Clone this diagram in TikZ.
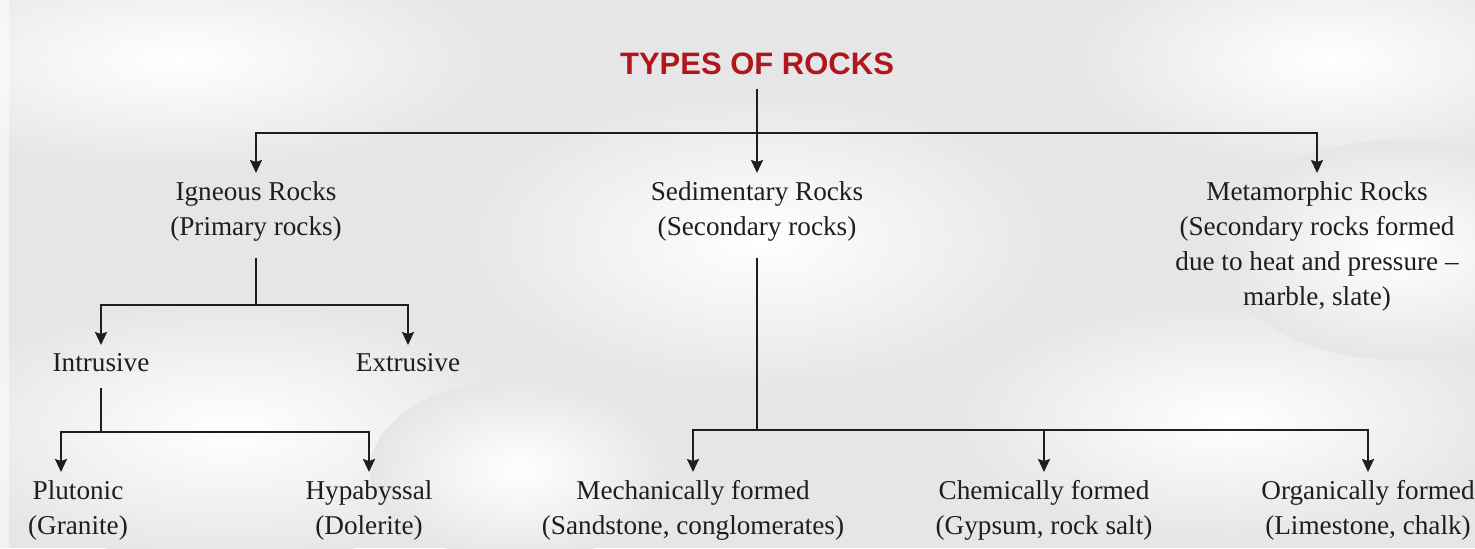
\documentclass[tikz,border=0pt]{standalone}
\usepackage{fontspec}
\setmainfont{Liberation Serif}
\newfontfamily\titlefont{Liberation Sans}
\usetikzlibrary{arrows.meta}
\definecolor{bgpaper}{HTML}{E6E6E6}
\definecolor{inkc}{HTML}{1E1E1E}
\definecolor{titlered}{HTML}{B0161E}
\tikzset{
  ln/.style={draw=inkc, line width=1pt},
  arr/.style={ln, -{Stealth[length=6.5pt,width=6pt,inset=1pt]}},
  lbl/.style={text=inkc, font=\rmfamily\fontsize{13.6}{17.5}\selectfont, align=center, inner xsep=0pt, inner ysep=4pt, anchor=north},
  ttl/.style={text=titlered, font=\titlefont\bfseries\fontsize{15.5}{18}\selectfont, inner xsep=0pt, inner ysep=7pt},
  downln/.style={ln, shorten <=4pt},
  glow/.style={inner color=white, outer color=bgpaper}
}
\begin{document}
\begin{tikzpicture}[x=0.5pt,y=-0.5pt]
\useasboundingbox (0,0) rectangle (1475,548);
% paper background
\fill[bgpaper] (0,0) rectangle (1475,548);
\begin{scope}
\clip (0,0) rectangle (1475,548);
\shade[glow] (180,60) ellipse [x radius=320, y radius=110];
\shade[glow] (760,240) ellipse [x radius=300, y radius=150];
\shade[glow] (1330,60) ellipse [x radius=260, y radius=110];
\shade[glow] (230,430) ellipse [x radius=300, y radius=130];
\shade[glow] (1230,420) ellipse [x radius=280, y radius=120];
\shade[glow] (1400,250) ellipse [x radius=180, y radius=110];
\shade[glow] (520,470) ellipse [x radius=150, y radius=90];
\fill[white, opacity=0.5] (0,0) rectangle (9,548);
\end{scope}

% nodes
\node[ttl] (title) at (757,64) {TYPES OF ROCKS};
\node[lbl] (ign) at (256,173) {Igneous Rocks\\(Primary rocks)};
\node[lbl] (sed) at (757,173) {Sedimentary Rocks\\(Secondary rocks)};
\node[lbl] (met) at (1317,173) {Metamorphic Rocks\\(Secondary rocks formed\\due to heat and pressure \textendash\\marble, slate)};
\node[lbl] (intr) at (101,345) {Intrusive};
\node[lbl] (extr) at (408,345) {Extrusive};
\node[lbl] (plu) at (78,472) {Plutonic\\(Granite)};
\node[lbl] (hyp) at (369,472) {Hypabyssal\\(Dolerite)};
\node[lbl] (mech) at (693,472) {Mechanically formed\\(Sandstone, conglomerates)};
\node[lbl] (chem) at (1044,472) {Chemically formed\\(Gypsum, rock salt)};
\node[lbl] (org) at (1368,472) {Organically formed\\(Limestone, chalk)};

% junctions
\coordinate (t0) at (757,133);
\coordinate (i0) at (256,305);
\coordinate (n0) at (101,432);
\coordinate (n1) at (61,432);
\coordinate (s0) at (757,430);

% connectors
\draw[ln] (title) -- (t0);
\draw[arr] (t0) -| (ign);
\draw[arr] (t0) -- (sed);
\draw[arr] (t0) -| (met);

\draw[downln] (ign) -- (i0);
\draw[arr] (i0) -| (intr);
\draw[arr] (i0) -| (extr);

\draw[downln] (intr) -- (n0);
\draw[arr] (n0) -- (n1) -- (n1 |- plu.north);
\draw[arr] (n0) -| (hyp);

\draw[downln] (sed) -- (s0);
\draw[arr] (s0) -| (mech);
\draw[arr] (s0) -| (chem);
\draw[arr] (s0) -| (org);
\end{tikzpicture}
\end{document}
